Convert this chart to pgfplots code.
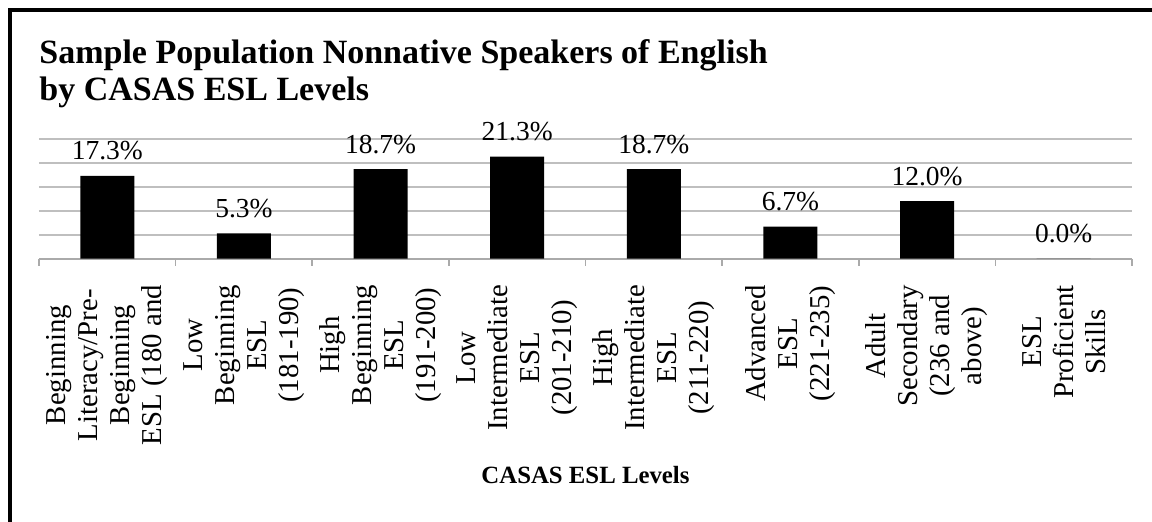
\documentclass[border=0pt]{standalone}
\usepackage{fontspec}
\setmainfont{Liberation Serif}
\usepackage{pgfplots}
\pgfplotsset{compat=1.18}
\definecolor{gridgray}{RGB}{191,191,191}
\definecolor{axgray}{RGB}{170,170,170}

\begin{document}
\begin{tikzpicture}
% page size: 1px of the reference = 0.5pt
\path[use as bounding box] (0,0) rectangle (576pt,260.5pt);
\draw[line width=1.6pt] (5pt,-20pt) -- (5pt,255.5pt) -- (600pt,255.5pt);
\node[anchor=base west, inner sep=0pt, font=\fontsize{17pt}{18.5pt}\selectfont\bfseries]
  at (19.5pt,229pt) {Sample Population Nonnative Speakers of English};
\node[anchor=base west, inner sep=0pt, font=\fontsize{17pt}{18.5pt}\selectfont\bfseries]
  at (19.5pt,210.5pt) {by CASAS ESL Levels};
\begin{axis}[
    at={(19.5pt,131.15pt)}, anchor=south west,
    scale only axis,
    width=546.5pt, height=59.85pt,
    ybar, bar width=27pt,
    xmin=-0.5, xmax=7.5,
    ymin=0, ymax=25,
    axis lines*=left,
    x axis line style={draw=axgray, line width=1pt},
    y axis line style={draw=none},
    ytick={5,10,...,25},
    yticklabels={},
    ytick style={draw=none},
    ymajorgrids,
    grid style={draw=gridgray, line width=0.8pt},
    xtick={0,...,7},
    major tick length=0pt,
    xticklabels={
      {Beginning\\Literacy/Pre-\\Beginning\\ESL (180 and},
      {Low\\Beginning\\ESL\\(181-190)},
      {High\\Beginning\\ESL\\(191-200)},
      {Low\\Intermediate\\ESL\\(201-210)},
      {High\\Intermediate\\ESL\\(211-220)},
      {Advanced\\ESL\\(221-235)},
      {Adult\\Secondary\\(236 and\\above)},
      {ESL\\Proficient\\Skills}},
    xticklabel style={rotate=90, anchor=east, align=center, inner sep=0pt,
      font=\fontsize{14.4pt}{16pt}\selectfont},
    xticklabel shift=13pt,
    extra x ticks={-0.5,0.5,...,7.5},
    extra x tick labels={},
    extra x tick style={major tick length=3.5pt, tick align=outside,
      tick style={draw=axgray, line width=0.8pt}},
    xlabel={CASAS ESL Levels},
    xlabel style={at={(rel axis cs:0.5,0)}, anchor=base, yshift=-112.15pt,
      inner sep=0pt, font=\fontsize{12.4pt}{14pt}\selectfont\bfseries},
    nodes near coords={\pgfmathprintnumber[fixed,fixed zerofill,precision=1,
      assume math mode=true]{\pgfplotspointmeta}\%},
    every node near coord/.append style={anchor=base, yshift=8pt, inner sep=0pt,
      font=\fontsize{13.75pt}{15pt}\selectfont, text=black},
    clip=false,
]
\addplot[fill=black, draw=none] coordinates {
  (0,17.3) (1,5.3) (2,18.7) (3,21.3) (4,18.7) (5,6.7) (6,12.0) (7,0.0)};
\end{axis}
\end{tikzpicture}
\end{document}
